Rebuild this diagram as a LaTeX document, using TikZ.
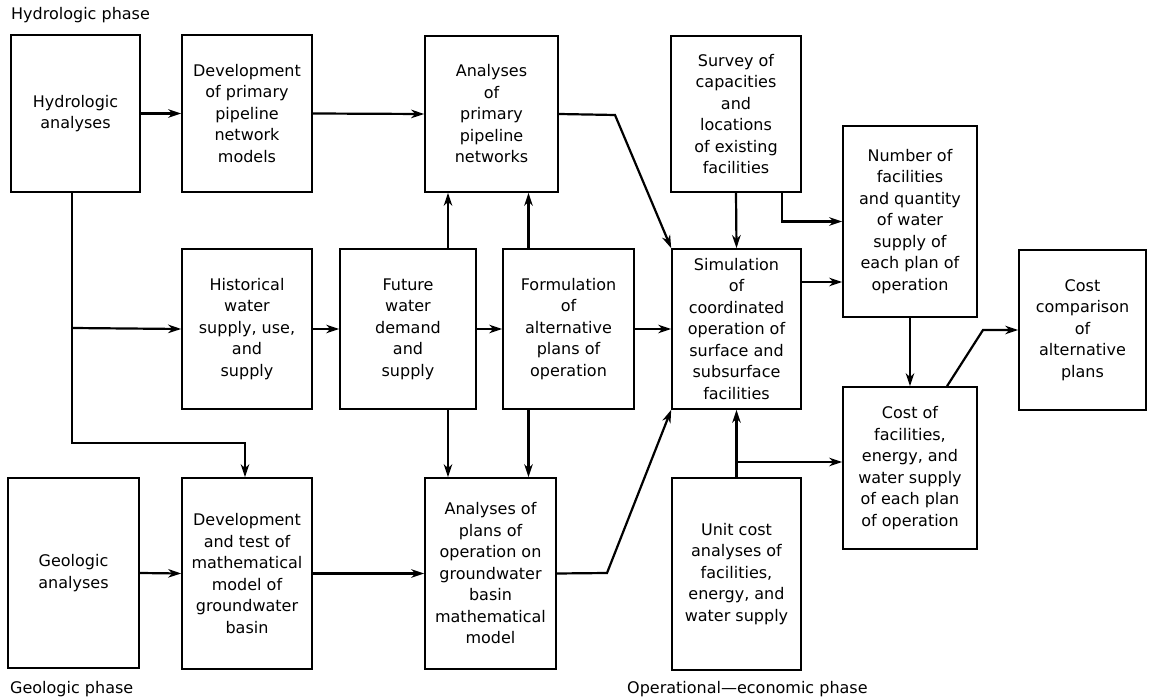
\documentclass[tikz,border=0pt]{standalone}
\usepackage{fontspec}
\setmainfont{DejaVu Sans}
\usetikzlibrary{arrows.meta}
\tikzset{
  txt/.style={font=\fontsize{16}{21.5}\selectfont},
  box/.style={txt, draw, line width=1.6pt, inner sep=0pt, align=center},
  conn/.style={line width=2.2pt, -{Stealth[length=13pt,width=8.5pt,inset=4pt]}},
  plain/.style={line width=2.2pt},
  lbl/.style={txt, anchor=west, inner sep=0pt}
}
\begin{document}
\begin{tikzpicture}[x=1pt,y=-1pt]
\useasboundingbox (0,0) rectangle (1149,700);

% phase titles
\node[lbl] (tHyd) at (11,15) {Hydrologic phase};
\node[lbl] (tGeo) at (10,689) {Geologic phase};
\node[lbl] (tOpe) at (627,689) {Operational—economic phase};

% top row
\node[box, minimum width=129, minimum height=157] (hyd) at (75.5,113.5) {Hydrologic\\analyses};
\node[box, minimum width=130, minimum height=157] (devpipe) at (247,113.5) {Development\\of primary\\pipeline\\network\\models};
\node[box, minimum width=133, minimum height=156] (anpipe) at (491.5,114) {Analyses\\of\\primary\\pipeline\\networks};
\node[box, minimum width=130, minimum height=156] (survey) at (736,114) {Survey of\\capacities\\and\\locations\\of existing\\facilities};
\node[box, minimum width=134, minimum height=191] (number) at (910,221.5) {Number of\\facilities\\and quantity\\of water\\supply of\\each plan of\\operation};

% middle row
\node[box, minimum width=130, minimum height=160] (hist) at (247,329) {Historical\\water\\supply, use,\\and\\supply};
\node[box, minimum width=136, minimum height=160] (fut) at (408,329) {Future\\water\\demand\\and\\supply};
\node[box, minimum width=131, minimum height=160] (form) at (568.5,329) {Formulation\\of\\alternative\\plans of\\operation};
\node[box, minimum width=129, minimum height=160] (sim) at (736.5,329) {Simulation\\of\\coordinated\\operation of\\surface and\\subsurface\\facilities};
\node[box, minimum width=127, minimum height=160] (costcmp) at (1082.5,330) {Cost\\comparison\\of\\alternative\\plans};
\node[box, minimum width=134, minimum height=162] (costfac) at (910,468) {Cost of\\facilities,\\energy, and\\water supply\\of each plan\\of operation};

% bottom row
\node[box, minimum width=131, minimum height=190] (geo) at (73.5,573) {Geologic\\analyses};
\node[box, minimum width=130, minimum height=191] (devtest) at (247,573.5) {Development\\and test of\\mathematical\\model of\\groundwater\\basin};
\node[box, minimum width=131, minimum height=191] (anplan) at (490.5,573.5) {Analyses of\\plans of\\operation on\\groundwater\\basin\\mathematical\\model};
\node[box, minimum width=129, minimum height=192] (unit) at (736.5,574) {Unit cost\\analyses of\\facilities,\\energy, and\\water supply};

% bend points
\coordinate (kPipe) at (615,115);
\coordinate (kPlan) at (607,573);
\coordinate (kCost) at (983,330);
\coordinate (jHyd) at (72,328);
\coordinate (kHyd) at (72,443);
\coordinate (yBranch) at (0,462);

% hydrologic chain
\draw[conn] (hyd.east) -- (devpipe.west);
\draw[conn] (devpipe.east) -- (anpipe.west);
\draw[conn] (anpipe.east) -- (kPipe) -- (sim.north west);
\draw[plain] ([xshift=-3.5pt]hyd.south) -- (jHyd);
\draw[conn] (jHyd) -- (kHyd) -| ([xshift=-2pt]devtest.north);
\draw[conn] (jHyd) -- (hist.west);

% middle chain
\draw[conn] (hist.east) -- (fut.west);
\draw[conn] (fut.east) -- (form.west);
\draw[conn] (form.east) -- (sim.west);
\draw[conn] ([xshift=40pt]fut.north) -- ([xshift=40pt]fut.north |- anpipe.south);
\draw[conn] ([xshift=-40pt]form.north) -- ([xshift=-40pt]form.north |- anpipe.south);
\draw[conn] ([xshift=40pt]fut.south) -- ([xshift=40pt]fut.south |- anplan.north);
\draw[conn] ([xshift=-40pt]form.south) -- ([xshift=-40pt]form.south |- anplan.north);

% geologic chain
\draw[conn] (geo.east) -- (devtest.west);
\draw[conn] (devtest.east) -- (anplan.west);
\draw[conn] (anplan.east) -- (kPlan) -- (sim.south west);

% operational-economic chain
\draw[conn] (survey.south) -- (sim.north);
\draw[conn] ([xshift=-20pt]survey.south east) |- (number.west);
\draw[conn] ([yshift=47pt]sim.east) -- ([yshift=47pt]sim.east -| number.west);
\draw[conn] (number.south) -- (costfac.north);
\draw[conn] ([xshift=37pt]costfac.north) -- (kCost) -- (costcmp.west);
\draw[conn] (unit.north) -- (sim.south);
\draw[conn] (unit.north |- yBranch) -- (costfac.west |- yBranch);
\end{tikzpicture}
\end{document}
